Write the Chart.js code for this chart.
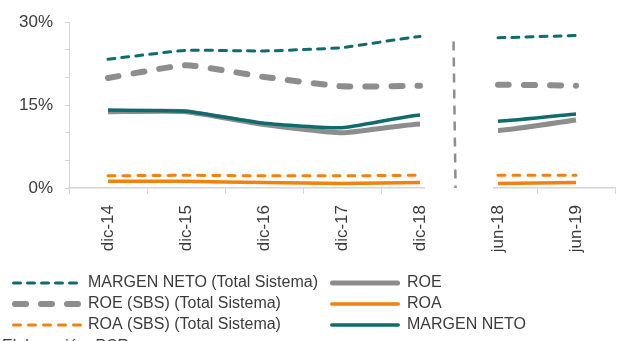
<!DOCTYPE html>
<html>
<head>
<meta charset="utf-8">
<script src="https://cdn.jsdelivr.net/npm/chart.js@4.4.1/dist/chart.umd.min.js"></script>
<style>
  html, body { margin: 0; padding: 0; background: #ffffff; }
  #wrap { width: 621px; height: 341px; position: relative; }
</style>
</head>
<body>
<div id="wrap"><canvas id="c"></canvas></div>
<script>
// Periods on the horizontal axis
const categories = ['dic-14', 'dic-15', 'dic-16', 'dic-17', 'dic-18', 'jun-18', 'jun-19'];

// Company indicators (%)
const roe = [13.8, 13.8, 11.5, 10.0, 11.6, 10.4, 12.3];
const roa = [1.2, 1.2, 1.0, 0.8, 1.0, 0.8, 1.0];
const margenNeto = [14.1, 13.9, 11.7, 10.9, 13.2, 12.1, 13.4];

// System-wide indicators (%)
const margenNetoSistema = [23.3, 24.9, 24.8, 25.4, 27.4, 27.2, 27.6];
const roeSistema = [19.9, 22.2, 20.1, 18.4, 18.5, 18.7, 18.5];
const roaSistema = [2.2, 2.3, 2.2, 2.2, 2.3, 2.3, 2.3];

// Y axis ticks (only every third step carries a label)
const yTicks = [0, 5, 10, 15, 20, 25, 30];
const yLabelled = [0, 15, 30];

const TEAL = '#116b6e';
const GRAY = '#8d8d8d';
const ORANGE = '#f2810e';
const AXIS = '#d6d6d6';
const TEXT = '#3b3b3b';
const FONT = '"Liberation Sans", Arial, sans-serif';

// Index after which the series are interrupted (annual vs. semi-annual block)
const BREAK_AFTER = 4;
const hideBreak = ctx => ctx.p0DataIndex === BREAK_AFTER ? 'rgba(0,0,0,0)' : undefined;

function series(label, data, color, width, dash) {
  return {
    label, data,
    borderColor: color,
    borderWidth: width,
    borderDash: dash || [],
    borderCapStyle: dash && dash.length ? 'round' : 'butt',
    pointRadius: 0,
    pointHoverRadius: 0,
    tension: 0.15,
    fill: false,
    segment: { borderColor: hideBreak }
  };
}

// First dataset is drawn on top
const datasets = [
  series('MARGEN NETO', margenNeto, TEAL, 3.5),
  series('ROE', roe, GRAY, 5),
  series('ROA', roa, ORANGE, 3.5),
  series('MARGEN NETO (Total Sistema)', margenNetoSistema, TEAL, 3, [7, 7]),
  series('ROE (SBS) (Total Sistema)', roeSistema, GRAY, 6, [11, 15]),
  series('ROA (SBS) (Total Sistema)', roaSistema, ORANGE, 3, [7, 8])
];

// Legend layout: two columns, three rows
const legendColumns = [
  ['MARGEN NETO (Total Sistema)', 'ROE (SBS) (Total Sistema)', 'ROA (SBS) (Total Sistema)'],
  ['ROE', 'ROA', 'MARGEN NETO']
];

const breakPlugin = {
  id: 'breakPlugin',
  afterDatasetsDraw(chart) {
    const { ctx, chartArea, scales } = chart;
    const x = scales.x;
    const a = x.getPixelForValue(BREAK_AFTER) + 5;
    const b = x.getPixelForValue(BREAK_AFTER + 1) - 5;
    ctx.save();
    // interrupt the category axis between the two blocks
    ctx.fillStyle = '#ffffff';
    ctx.fillRect(a, chartArea.bottom - 2, b - a, 10);
    // dashed separator
    const sx = x.getPixelForValue(BREAK_AFTER + 0.43);
    ctx.strokeStyle = GRAY;
    ctx.lineWidth = 2.5;
    ctx.setLineDash([9, 7]);
    ctx.beginPath();
    ctx.moveTo(sx, scales.y.getPixelForValue(26.5));
    ctx.lineTo(sx + 2, chartArea.bottom);
    ctx.stroke();
    ctx.restore();
  }
};

const legendPlugin = {
  id: 'twoColumnLegend',
  afterDraw(chart) {
    const { ctx } = chart;
    const colX = [12, 330];
    const rowY = [283, 304, 325];
    const sample = 70;
    ctx.save();
    ctx.font = '16px ' + FONT;
    ctx.textBaseline = 'middle';
    legendColumns.forEach((col, ci) => {
      col.forEach((label, ri) => {
        const ds = chart.data.datasets.find(d => d.label === label);
        const y = rowY[ri];
        const x0 = colX[ci];
        ctx.strokeStyle = ds.borderColor;
        ctx.lineWidth = ds.borderWidth;
        ctx.lineCap = 'round';
        ctx.setLineDash(ds.borderDash);
        ctx.beginPath();
        ctx.moveTo(x0 + ds.borderWidth / 2, y);
        ctx.lineTo(x0 + sample - ds.borderWidth / 2, y);
        ctx.stroke();
        ctx.setLineDash([]);
        ctx.fillStyle = TEXT;
        ctx.fillText(label, x0 + sample + (ci === 0 ? 6 : 7), y);
      });
    });
    // source note at the foot of the figure
    ctx.textBaseline = 'top';
    ctx.fillText('Elaboración: PCR', 2, 339);
    ctx.restore();
  }
};

new Chart(document.getElementById('c'), {
  type: 'line',
  data: { labels: categories, datasets },
  options: {
    responsive: true,
    maintainAspectRatio: false,
    animation: false,
    layout: { padding: { top: 15, right: 6, bottom: 83, left: 0 } },
    plugins: {
      legend: { display: false },
      tooltip: { enabled: false }
    },
    scales: {
      x: {
        type: 'category',
        offset: true,
        afterFit: s => { s.height = 70; },
        grid: {
          display: true, offset: true, drawOnChartArea: false,
          drawTicks: true, tickLength: 6, color: AXIS
        },
        border: { display: true, color: AXIS, width: 1.5 },
        ticks: {
          minRotation: 90, maxRotation: 90, autoSkip: false,
          padding: 11, color: TEXT, font: { family: FONT, size: 17 }
        }
      },
      y: {
        min: 0, max: 30,
        afterFit: s => { s.width = 69; },
        afterBuildTicks: s => { s.ticks = yTicks.map(v => ({ value: v })); },
        grid: {
          display: true, drawOnChartArea: false, drawTicks: true,
          tickLength: 4, color: AXIS
        },
        border: { display: true, color: AXIS, width: 1 },
        ticks: {
          padding: 12, color: TEXT, font: { family: FONT, size: 17 },
          callback: v => yLabelled.includes(v) ? v + '%' : ''
        }
      }
    }
  },
  plugins: [breakPlugin, legendPlugin]
});
</script>
</body>
</html>
